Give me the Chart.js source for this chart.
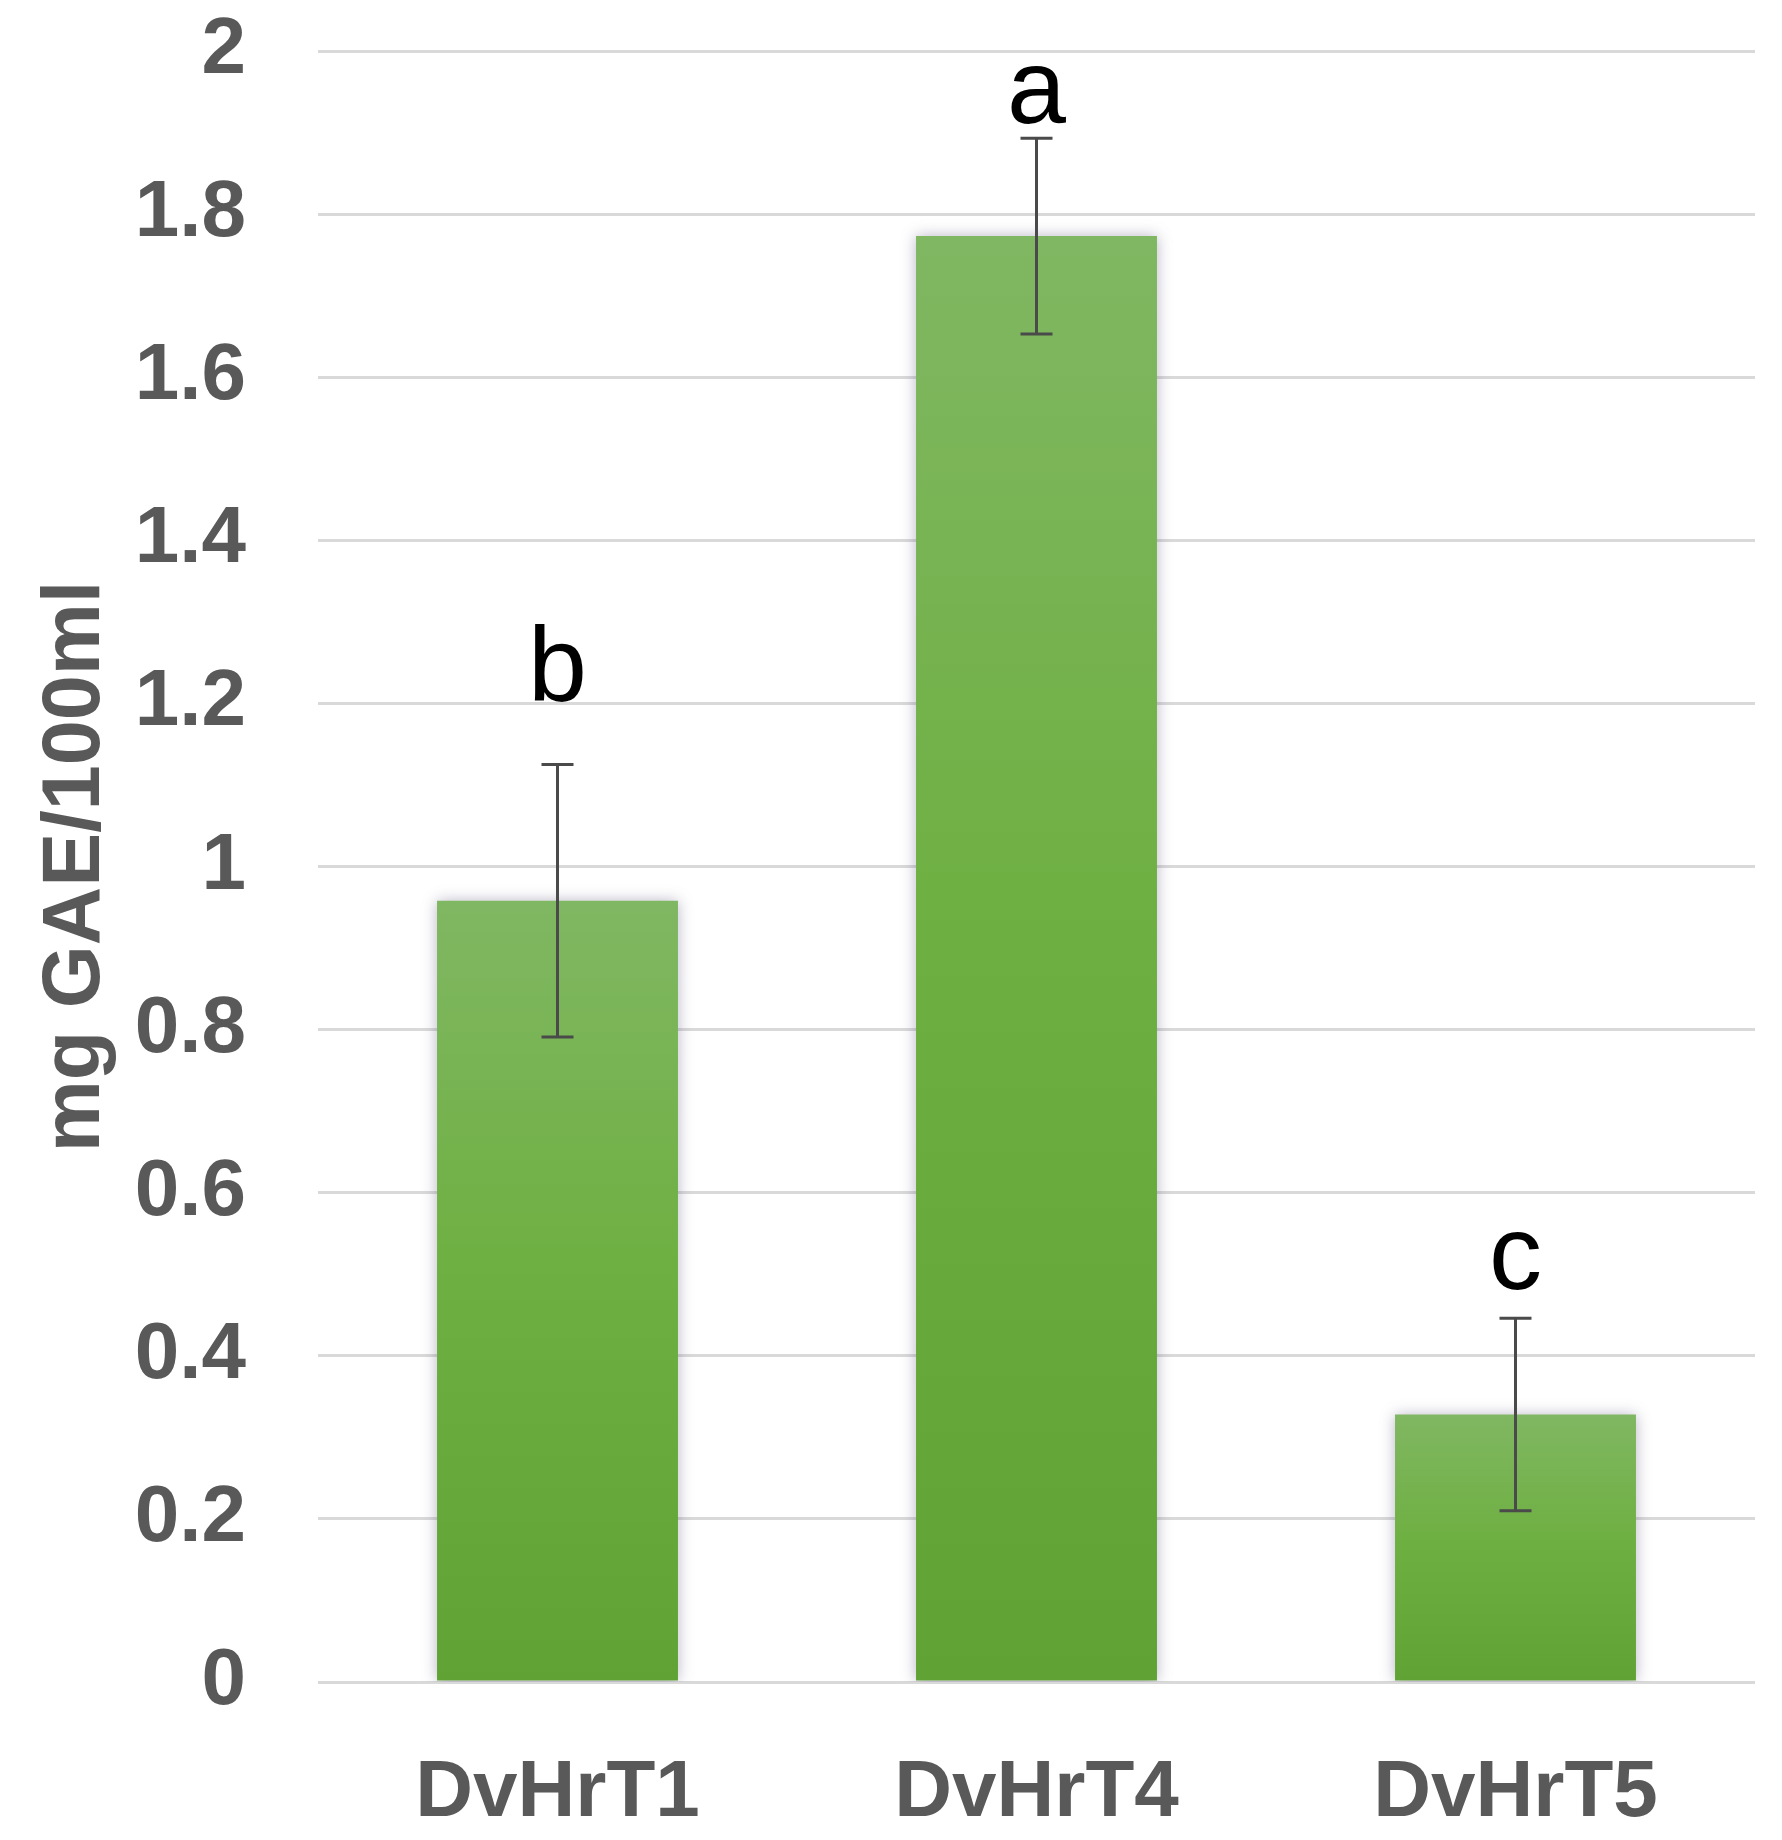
<!DOCTYPE html>
<html>
<head>
<meta charset="utf-8">
<script src="https://cdn.jsdelivr.net/npm/chart.js@4.4.1/dist/chart.umd.min.js"></script>
<style>
  html, body { margin: 0; padding: 0; background: #fff; }
  #wrap { width: 1782px; height: 1840px; }
</style>
</head>
<body>
<div id="wrap"><canvas id="bars"></canvas></div>
<script>
// values
var categories = ['DvHrT1', 'DvHrT4', 'DvHrT5'];
var means = [0.958, 1.773, 0.328];
var errors = [0.167, 0.12, 0.118];
var letters = ['b', 'a', 'c'];
var letterBase = [1.203, 1.912, 0.482];   // baseline of each letter, in axis units
var yTicks = [0, 0.2, 0.4, 0.6, 0.8, 1, 1.2, 1.4, 1.6, 1.8, 2];

var FONT = "'Liberation Sans', Arial, Helvetica, sans-serif";
var GREY = '#595959';

function barFill(c) {
    var chart = c.chart;
    var y = chart.scales.y;
    if (!chart.chartArea || !y || c.dataIndex === undefined) return '#6aab43';
    var top = y.getPixelForValue(means[c.dataIndex]);
    var bottom = y.getPixelForValue(0);
    var g = chart.ctx.createLinearGradient(0, top, 0, bottom);
    g.addColorStop(0, '#80b762');
    g.addColorStop(0.45, '#6fb043');
    g.addColorStop(1, '#60a234');
    return g;
}

var barShadow = {
    id: 'barShadow',
    beforeDatasetsDraw: function (chart) {
        var ctx = chart.ctx;
        ctx.save();
        ctx.shadowColor = 'rgba(80, 70, 110, 0.4)';
        ctx.shadowBlur = 14;
        ctx.shadowOffsetX = 0;
        ctx.shadowOffsetY = 0;
    },
    afterDatasetsDraw: function (chart) {
        chart.ctx.restore();
    }
};

var errorBars = {
    id: 'errorBars',
    afterDatasetsDraw: function (chart) {
        var ctx = chart.ctx;
        var x = chart.scales.x, y = chart.scales.y;
        ctx.save();
        ctx.strokeStyle = '#4a4a4a';
        ctx.lineWidth = 3;
        for (var i = 0; i < means.length; i++) {
            var px = x.getPixelForValue(i);
            var hi = y.getPixelForValue(means[i] + errors[i]);
            var lo = y.getPixelForValue(means[i] - errors[i]);
            ctx.beginPath();
            ctx.moveTo(px, hi); ctx.lineTo(px, lo);
            ctx.moveTo(px - 16, hi); ctx.lineTo(px + 16, hi);
            ctx.moveTo(px - 16, lo); ctx.lineTo(px + 16, lo);
            ctx.stroke();
        }
        // significance letters
        ctx.fillStyle = '#000';
        ctx.font = '106px ' + FONT;
        ctx.textAlign = 'center';
        ctx.textBaseline = 'alphabetic';
        for (var j = 0; j < letters.length; j++) {
            ctx.fillText(letters[j], x.getPixelForValue(j), y.getPixelForValue(letterBase[j]));
        }
        ctx.restore();
    }
};

new Chart(document.getElementById('bars').getContext('2d'), {
    type: 'bar',
    data: {
        labels: categories,
        datasets: [{
            label: 'mg GAE/100ml',
            data: means,
            backgroundColor: barFill,
            borderWidth: 0,
            categoryPercentage: 1,
            barPercentage: 0.503
        }]
    },
    options: {
        responsive: true,
        maintainAspectRatio: false,
        devicePixelRatio: 1,
        animation: false,
        layout: { padding: { top: 51, right: 27, left: 0, bottom: 0 } },
        plugins: {
            legend: { display: false },
            tooltip: { enabled: false }
        },
        scales: {
            x: {
                grid: { display: false, drawTicks: false },
                border: { display: false },
                ticks: {
                    color: GREY,
                    padding: 64,
                    font: { family: FONT, size: 80, weight: 'bold' }
                },
                afterFit: function (s) { s.height = 158; }
            },
            y: {
                min: 0,
                max: 2,
                afterBuildTicks: function (s) {
                    s.ticks = yTicks.map(function (v) { return { value: v }; });
                },
                grid: { color: '#d9d9d9', lineWidth: 3, drawTicks: false },
                border: { display: false },
                ticks: {
                    color: GREY,
                    padding: 72,
                    font: { family: FONT, size: 80, weight: 'bold' },
                    callback: function (v) { return String(Math.round(v * 10) / 10); }
                },
                title: {
                    display: true,
                    text: 'mg GAE/100ml',
                    color: GREY,
                    padding: { top: 28, bottom: 0 },
                    font: { family: FONT, size: 81, weight: 'bold' }
                },
                afterFit: function (s) {
                    s.width = 318;
                    s.paddingTop = 0;
                    s.paddingBottom = 0;
                }
            }
        }
    },
    plugins: [barShadow, errorBars]
});
</script>
</body>
</html>
